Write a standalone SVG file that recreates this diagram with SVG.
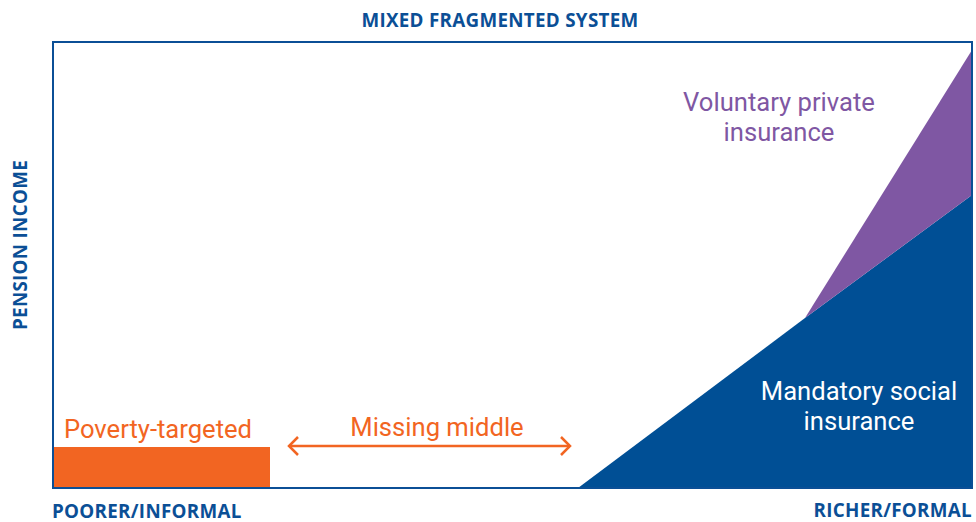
<svg xmlns="http://www.w3.org/2000/svg" width="976" height="522" viewBox="0 0 976 522">
<style>
.ax{font-family:"Open Sans","Liberation Sans",sans-serif;font-weight:700;font-size:18.8px;fill:#0b4f96;letter-spacing:0.3px}
.lb{font-family:Roboto,"Liberation Sans",sans-serif;font-size:25.6px}
</style>
<rect width="976" height="522" fill="#ffffff"/>
<g id="mandatory">
<polygon points="578,488 805,318 972,195 972,488" fill="#004f95"/>
<text class="lb" x="859" y="400" text-anchor="middle" fill="#ffffff">Mandatory social</text>
<text class="lb" x="859" y="430" text-anchor="middle" fill="#ffffff">insurance</text>
</g>
<g id="voluntary">
<polygon points="805,318 972,50 972,195" fill="#7f57a3"/>
<text class="lb" x="779" y="111" text-anchor="middle" fill="#7f57a3">Voluntary private</text>
<text class="lb" x="779" y="141" text-anchor="middle" fill="#7f57a3">insurance</text>
</g>
<g id="poverty">
<rect x="53" y="447" width="217" height="41" fill="#f26522"/>
<text class="lb" x="158" y="438" text-anchor="middle" fill="#f26522">Poverty-targeted</text>
</g>
<rect id="frame" x="53" y="42" width="919" height="446" fill="none" stroke="#0b4f96" stroke-width="2"/>
<g id="connectors" fill="none" stroke="#f26522" stroke-width="2.5">
<line x1="289" y1="446" x2="570" y2="446"/>
<polyline points="298,437 289,446 298,455"/>
<polyline points="561,437 570,446 561,455"/>
</g>
<g id="missing">
<text class="lb" x="437" y="436" text-anchor="middle" fill="#f26522">Missing middle</text>
</g>
<g id="axes">
<text class="ax" x="500" y="27" text-anchor="middle">MIXED FRAGMENTED SYSTEM</text>
<text class="ax" x="52" y="518">POORER/INFORMAL</text>
<text class="ax" x="972" y="517" text-anchor="end">RICHER/FORMAL</text>
<text class="ax" transform="translate(27,245) rotate(-90)" text-anchor="middle">PENSION INCOME</text>
</g>
</svg>
